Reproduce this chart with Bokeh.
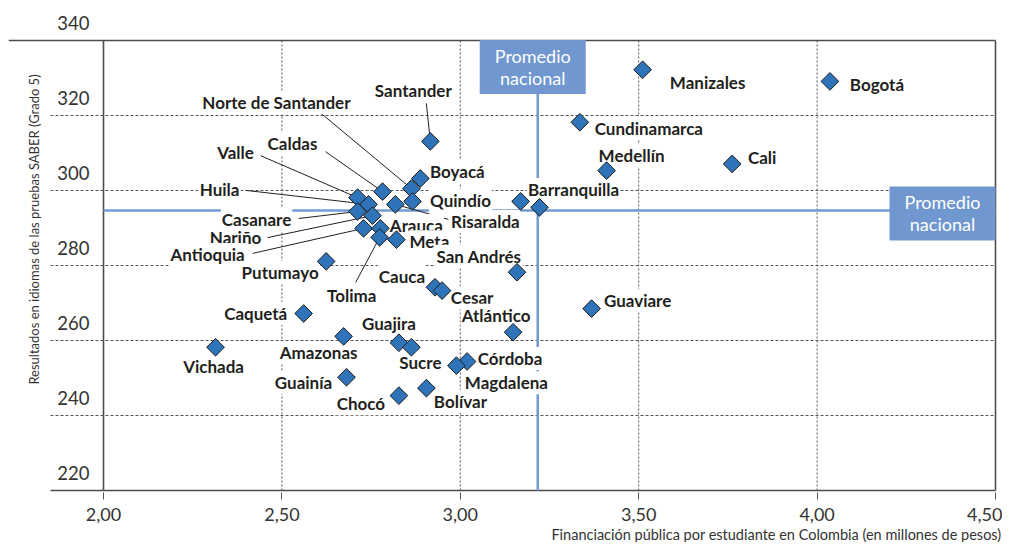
import numpy as np
from bokeh.plotting import figure
from bokeh.models import Range1d, FixedTicker, ColumnDataSource, Title
from bokeh.core.properties import value
from bokeh.embed import file_html
from bokeh.resources import INLINE

# ---------------- data ----------------
names = ["Bogotá", "Manizales", "Cundinamarca", "Medellín", "Cali", "Santander",
         "Boyacá", "Norte de Santander", "Caldas", "Valle", "Huila", "Risaralda",
         "Quindío", "Casanare", "Nariño", "Antioquia", "Arauca", "Tolima", "Meta",
         "Putumayo", "Barranquilla", "", "San Andrés", "Cauca", "Cesar", "Guaviare",
         "Caquetá", "Atlántico", "Guajira", "Sucre", "Amazonas", "Vichada", "Córdoba",
         "Magdalena", "Guainía", "Chocó", "Bolívar"]
financiacion = [4.036, 3.511, 3.335, 3.410, 3.762, 2.916,
                2.888, 2.863, 2.782, 2.712, 2.743, 2.818,
                2.866, 2.712, 2.754, 2.729, 2.776, 2.774, 2.821,
                2.624, 3.169, 3.222, 3.159, 2.929, 2.949, 3.368,
                2.561, 3.148, 2.828, 2.863, 2.673, 2.314, 3.019,
                2.989, 2.681, 2.828, 2.905]
resultados = [329.1, 332.2, 318.2, 305.3, 307.1, 313.1,
              303.2, 300.5, 299.7, 298.1, 296.3, 296.3,
              297.1, 294.4, 293.3, 289.9, 289.9, 287.5, 286.9,
              281.1, 297.1, 295.5, 278.2, 274.2, 273.3, 268.5,
              267.2, 262.2, 259.4, 258.2, 261.1, 258.2, 254.4,
              253.3, 250.2, 245.3, 247.3]
promedio_x = 3.217
promedio_y = 294.7
promedio_text = ["Promedio", "nacional"]

x_ticks = [2.0, 2.5, 3.0, 3.5, 4.0, 4.5]
x_tick_labels = ["2,00", "2,50", "3,00", "3,50", "4,00", "4,50"]
y_ticks = [220, 240, 260, 280, 300, 320, 340]
y_tick_labels = ["220", "240", "260", "280", "300", "320", "340"]
x_title = "Financiación pública por estudiante en Colombia (en millones de pesos)"
y_title = "Resultados en idiomas de las pruebas SABER (Grado 5)"

# ---------------- layout / styles ----------------
PXX = 356.8   # px per x unit
PXY = 3.75    # px per y unit
X0, X1 = x_ticks[0], x_ticks[-1]
Y0, Y1 = y_ticks[0], y_ticks[-1]

# label offsets (px, y down) relative to each point
label_off = {
    "Bogotá": (47, 3), "Manizales": (65, 13), "Cundinamarca": (69, 6),
    "Medellín": (25, -15), "Cali": (30, -6), "Santander": (-17, -51),
    "Boyacá": (37, -7), "Norte de Santander": (-135, -86), "Caldas": (-90, -48),
    "Valle": (-122, -45), "Huila": (-149, -15), "Risaralda": (90, 17),
    "Quindío": (48, -1), "Casanare": (-101, 8), "Nariño": (-137, 22),
    "Antioquia": (-156, 26), "Arauca": (36, -3), "Tolima": (-28, 58),
    "Meta": (33, 2), "Putumayo": (-46, 11), "Barranquilla": (53, -12),
    "San Andrés": (-38, -16), "Cauca": (-33, -11), "Cesar": (30, 7),
    "Guaviare": (46, -8), "Caquetá": (-48, 0), "Atlántico": (-17, -17),
    "Guajira": (-10, -19), "Sucre": (9, 15), "Amazonas": (-25, 16),
    "Vichada": (-2, 19), "Córdoba": (43, -3), "Magdalena": (50, 17),
    "Guainía": (-43, 5), "Chocó": (-38, 8), "Bolívar": (34, 13),
}
# leader line start (px, y down) relative to the point
leader_off = {
    "Santander": (-4, -38), "Norte de Santander": (-90, -75), "Caldas": (-57, -40),
    "Valle": (-97, -42), "Huila": (-123, -14), "Casanare": (-59, 7),
    "Nariño": (-105, 22), "Antioquia": (-111, 25), "Tolima": (-24, 45),
    "Risaralda": (53, 15),
}

FONT = value("Lato")
DARK = "#231f20"
GRID = "#555555"
AVG = "#739bd3"
BOX = "#7097cf"

p = figure(frame_width=989, frame_height=492,
           x_range=Range1d(X0 - 95 / PXX, X1 + 2 / PXX),
           y_range=Range1d(Y0 - 2 / PXY, Y1 + 40 / PXY),
           output_backend="svg", toolbar_location=None,
           x_axis_location="below", y_axis_location=None,
           min_border_left=8, min_border_top=0, min_border_right=5, min_border_bottom=0)
p.outline_line_color = None
p.grid.visible = False
p.background_fill_color = "white"

# x axis
ax = p.xaxis[0]
ax.ticker = FixedTicker(ticks=x_ticks)
ax.major_label_overrides = {t: l for t, l in zip(x_ticks, x_tick_labels)}
ax.axis_line_color = None
ax.major_tick_in = 0
ax.major_tick_out = 7
ax.major_tick_line_color = GRID
ax.minor_tick_line_color = None
ax.major_label_standoff = 8
ax.major_label_text_font = "Lato"
ax.major_label_text_font_size = "18px"
ax.major_label_text_color = "#333333"

# x title (right aligned under the axis)
p.add_layout(Title(text=x_title, align="right", offset=-4, standoff=0,
                   text_font="Lato", text_font_style="normal",
                   text_font_size="14.5px", text_color="#333333"), "below")

# grid lines
gx0 = X0 - 53 / PXX
hg = [t for t in y_ticks if Y0 < t < Y1]
p.segment(x0=[gx0] * len(hg), y0=hg, x1=[X1] * len(hg), y1=hg,
          line_color=GRID, line_width=1, line_dash="3 2")
vg = [t for t in x_ticks if X0 < t < X1]
p.segment(x0=vg, y0=[Y0] * len(vg), x1=vg, y1=[Y1] * len(vg),
          line_color=GRID, line_width=1, line_dash="2 2")

# frame lines
p.segment(x0=[X0 - 95 / PXX, X0, X1, gx0], y0=[Y1, Y0, Y0, Y0],
          x1=[X1, X0, X1, X1], y1=[Y1, Y1, Y1, Y0],
          line_color="#4d4d4d", line_width=1.6)

# y tick labels
p.text(x=[X0] * len(y_ticks), y=y_ticks, text=y_tick_labels,
       x_offset=-14, y_offset=-18, text_align="right", text_baseline="middle",
       text_font=FONT, text_font_size="18.5px", text_color="#333333")

# y title
p.text(x=[X0 - 70 / PXX], y=[Y1 - 189 / PXY], text=[y_title], angle=np.pi / 2,
       text_align="center", text_baseline="middle", text_font=FONT,
       text_font_size="13px", text_color="#333333")

# national average lines
p.segment(x0=[X0, promedio_x], y0=[promedio_y, Y0], x1=[X1, promedio_x], y1=[promedio_y, Y1],
          line_color=AVG, line_width=2.5)

# leader lines
lx0, ly0, lx1, ly1 = [], [], [], []
for n, x, y in zip(names, financiacion, resultados):
    if n in leader_off:
        sx, sy = leader_off[n]
        lx0.append(x + sx / PXX); ly0.append(y - sy / PXY)
        lx1.append(x); ly1.append(y)
p.segment(x0=lx0, y0=ly0, x1=lx1, y1=ly1, line_color=DARK, line_width=1)

# labels
lab = dict(x=[], y=[], text=[], dx=[], dy=[])
for n, x, y in zip(names, financiacion, resultados):
    if n:
        dx, dy = label_off[n]
        lab["x"].append(x); lab["y"].append(y); lab["text"].append(n)
        lab["dx"].append(dx); lab["dy"].append(dy)
p.text(x="x", y="y", text="text", x_offset="dx", y_offset="dy",
       source=ColumnDataSource(lab), text_align="center", text_baseline="middle",
       text_font=FONT, text_font_style="bold", text_font_size="17px",
       text_color=DARK, background_fill_color="white", padding=1)

# diamonds
p.scatter(x=financiacion, y=resultados, marker="square", size=12.5, angle=np.pi / 4,
          fill_color="#2f74b9", line_color="#1b1b1b", line_width=1)

# "Promedio nacional" boxes
bx_top = promedio_x - 5 / PXX
by_top = Y1 - 26.5 / PXY
bx_r = X1 - 53 / PXX
by_r = promedio_y - 3 / PXY
p.rect(x=[bx_top, bx_r], y=[by_top, by_r], width=106, height=54,
       width_units="screen", height_units="screen", fill_color=BOX, line_color=None)
for (bx, by) in [(bx_top, by_top), (bx_r, by_r)]:
    p.text(x=[bx, bx], y=[by, by], text=promedio_text, y_offset=[-11, 11],
           text_align="center", text_baseline="middle", text_font=FONT,
           text_font_size="18px", text_color="white")

open("out.html", "w").write(file_html(p, INLINE))
